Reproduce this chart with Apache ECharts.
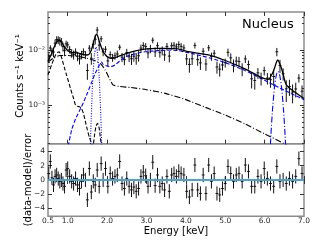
<!DOCTYPE html>
<html><head><meta charset="utf-8">
<script src="https://cdn.jsdelivr.net/npm/echarts@6/dist/echarts.min.js"></script>
<style>html,body{margin:0;padding:0;background:#fff}#c{width:320px;height:240px}</style>
</head><body><div id="c"></div>
<script>
// ---- axis ranges / ticks ----
const xMin = 0.5, xMax = 7.0;
const xTickVals = [1, 2, 3, 4, 5, 6, 7];
const xLabelVals = [0.5, 1, 2, 3, 4, 5, 6, 7];
const yMin = 2e-4, yMax = 0.049;
const yMajorVals = [1e-3, 1e-2];
const yMinorVals = [2e-4,3e-4,4e-4,5e-4,6e-4,7e-4,8e-4,9e-4,2e-3,3e-3,4e-3,5e-3,6e-3,7e-3,8e-3,9e-3,2e-2,3e-2,4e-2];
const rMin = -5.1, rMax = 5.1;
const rTickVals = [-4, -2, 0, 2, 4];

// ---- data points (top panel) ----
const dataE = [0.52,0.56,0.60,0.64,0.68,0.72,0.76,0.80,0.84,0.88,0.92,0.96,1.00,1.05,1.10,1.15,1.20,1.25,1.30,1.35,1.40,1.45,1.50,1.55,1.60,1.65,1.70,1.75,1.80,1.85,1.90,1.96,2.02,2.08,2.14,2.20,2.26,2.32,2.38,2.44,2.50,2.56,2.62,2.68,2.74,2.80,2.86,2.92,2.98,3.04,3.10,3.16,3.22,3.28,3.34,3.40,3.46,3.52,3.58,3.64,3.70,3.76,3.82,3.88,3.95,4.02,4.09,4.16,4.23,4.30,4.37,4.44,4.51,4.58,4.65,4.72,4.79,4.86,4.93,5.00,5.07,5.14,5.21,5.28,5.35,5.43,5.51,5.59,5.67,5.75,5.83,5.91,5.99,6.07,6.15,6.23,6.31,6.39,6.47,6.55,6.63,6.71,6.79,6.87,6.95];
const dataY = [0.00765,0.01089,0.00936,0.00922,0.01335,0.01544,0.01529,0.01463,0.01413,0.01152,0.00972,0.01296,0.01243,0.01024,0.00881,0.00825,0.00921,0.00776,0.00693,0.00822,0.00931,0.00822,0.00426,0.01082,0.00711,0.01273,0.01566,0.02305,0.01224,0.01597,0.00933,0.01034,0.00635,0.00826,0.00732,0.00786,0.00849,0.01126,0.00744,0.0067,0.00901,0.00755,0.00695,0.00774,0.00711,0.00787,0.01085,0.01214,0.01154,0.00887,0.01059,0.01509,0.00926,0.012,0.00908,0.00981,0.00817,0.01163,0.00777,0.01194,0.01221,0.01141,0.01261,0.01167,0.01093,0.00692,0.00548,0.00695,0.01215,0.0067,0.00586,0.00952,0.00559,0.01098,0.00767,0.00875,0.00493,0.0045,0.00536,0.00591,0.0091,0.00722,0.00534,0.00631,0.00621,0.00455,0.00691,0.00545,0.00301,0.00281,0.00386,0.00308,0.00423,0.0031,0.0029,0.00331,0.00931,0.00523,0.00372,0.00198,0.00218,0.00173,0.00197,0.0031,0.00179];
const dataErr = [0.0011,0.0013,0.0015,0.0018,0.0021,0.0023,0.0025,0.0026,0.0024,0.0021,0.0020,0.0018,0.0017,0.0016,0.00155,0.00153,0.00151,0.0015,0.00148,0.00145,0.00141,0.0014,0.00138,0.00145,0.0017,0.0022,0.0030,0.0032,0.0025,0.0020,0.0016,0.0014,0.0013,0.0012,0.0012,0.0012,0.0013,0.0013,0.0014,0.0014,0.0015,0.0015,0.0016,0.0016,0.0017,0.0017,0.0017,0.0017,0.0018,0.0018,0.0018,0.0018,0.0018,0.0018,0.0018,0.0018,0.0018,0.0018,0.0018,0.0018,0.0018,0.0018,0.0018,0.0017,0.0017,0.0016,0.0016,0.0016,0.0015,0.0015,0.0015,0.0014,0.0014,0.0014,0.0013,0.0013,0.0012,0.0012,0.0011,0.0011,0.0015,0.0015,0.0014,0.0013,0.0013,0.0012,0.0011,0.0010,0.0010,0.0009,0.00086,0.00081,0.00076,0.00074,0.00083,0.0011,0.0016,0.0014,0.00093,0.00084,0.00071,0.00065,0.00059,0.00053,0.00048];

// ---- residuals (bottom panel) ----
const resid = [0.9,2.6,0.3,-0.7,0.5,0.7,0.2,-0.2,0.0,-0.5,-0.9,1.4,1.6,0.5,-0.2,-0.5,0.2,-0.7,-1.2,-0.2,0.7,0.0,-2.8,1.6,-1.7,-0.2,-0.7,1.4,-0.9,2.3,0.0,1.6,-0.9,0.9,0.2,0.5,0.7,2.6,-0.5,-1.2,0.2,-0.9,-1.4,-1.0,-1.6,-1.2,0.5,1.1,0.6,-0.9,0.0,2.5,-0.8,0.7,-0.9,-0.5,-1.4,0.5,-1.6,0.7,0.9,0.5,1.2,0.9,0.7,-1.6,-2.4,-1.4,2.1,-1.4,-1.9,0.7,-1.9,2.1,-0.2,0.9,-1.9,-2.1,-1.2,-0.5,1.9,0.9,-0.2,0.7,0.9,-0.2,2.1,1.2,-0.9,-0.9,0.5,-0.2,1.6,0.2,-0.5,-0.9,1.9,-0.2,0.0,-0.5,0.2,-0.2,0.5,3.0,0.9];
const residErr = 1.0;
const zeroLevel = 0;

// ---- model curves ----
const totalE = [0.5,0.55,0.6,0.65,0.7,0.75,0.8,0.85,0.9,0.95,1.0,1.1,1.2,1.3,1.4,1.5,1.55,1.6,1.65,1.7,1.73,1.76,1.8,1.85,1.9,1.95,2.0,2.1,2.2,2.3,2.5,2.75,3.0,3.25,3.5,3.8,4.0,4.25,4.64,5.0,5.5,5.87,6.0,6.1,6.2,6.25,6.3,6.33,6.38,6.45,6.53,6.6,6.8,7.0];
const totalY = [0.00617,0.00741,0.00891,0.01096,0.01318,0.01479,0.01514,0.0138,0.01202,0.01072,0.00977,0.00912,0.00891,0.00871,0.00832,0.00813,0.00851,0.01,0.01318,0.01778,0.0195,0.0182,0.01445,0.01148,0.00933,0.00832,0.00759,0.00708,0.00724,0.00776,0.00871,0.00977,0.01047,0.01072,0.01072,0.01047,0.00955,0.00891,0.00794,0.00646,0.00457,0.00331,0.00302,0.00295,0.0038,0.00468,0.00603,0.00661,0.00575,0.00417,0.00251,0.00214,0.00166,0.00132];

const plE = [1.0,1.02,1.1,1.2,1.3,1.4,1.5,1.6,1.7,1.8,1.86,1.9,2.0,2.1,2.2,2.45,2.7,2.96,3.3,3.6,3.8,4.2,4.64,5.0,5.5,6.0,6.5,7.0];
const plY = [0.000141,0.00019,0.000355,0.000562,0.000794,0.00112,0.00166,0.00251,0.0038,0.00525,0.00603,0.0055,0.00513,0.00501,0.00537,0.00741,0.00851,0.00933,0.00977,0.01,0.00977,0.00851,0.00708,0.00589,0.00427,0.00282,0.00186,0.00126];

const thE = [0.5,0.55,0.6,0.65,0.7,0.75,0.78,0.82,0.87,0.92,0.97,1.02,1.08,1.15,1.2,1.25,1.3,1.35,1.4,1.45,1.5,1.55,1.6,1.64,1.68,1.72,1.76,1.8,1.83,1.86,1.9];
const thY = [0.00355,0.00447,0.00562,0.00692,0.00832,0.00912,0.00933,0.00832,0.00631,0.00468,0.00355,0.00269,0.00191,0.00132,0.001,0.000955,0.000933,0.000871,0.000708,0.000501,0.000355,0.000263,0.000209,0.000178,0.000282,0.000417,0.000468,0.00038,0.000251,0.000178,0.0001];

const scE = [0.5,0.65,0.8,1.0,1.3,1.6,1.75,1.85,1.95,2.05,2.15,2.3,2.6,3.0,3.5,4.0,4.5,5.0,5.5,6.0,6.5,6.7];
const scY = [0.00603,0.00724,0.00794,0.00794,0.00759,0.00676,0.00617,0.0055,0.00437,0.00316,0.00234,0.00219,0.00209,0.00191,0.00162,0.00126,0.000912,0.000661,0.000457,0.000302,0.0002,0.000166];

const siE = [1.57,1.59,1.62,1.65,1.68,1.71,1.72,1.74,1.77,1.80,1.83,1.86,1.88];
const siY = [0.00013,0.00039,0.00156,0.0043,0.0083,0.0113,0.0115,0.0106,0.0070,0.0032,0.00102,0.00023,0.00007];

const feE = [6.12,6.16,6.2,6.25,6.3,6.34,6.38,6.43,6.48,6.52,6.56];
const feY = [0.000077,0.000287,0.00082,0.0021,0.0036,0.0041,0.0036,0.0021,0.00082,0.000287,0.000077];

// ---- build ----
const pairs = (xs, ys) => xs.map((x, i) => [x, ys[i]]);
const topData = dataE.map((e, i) => [e, dataY[i], dataY[i] - dataErr[i], dataY[i] + dataErr[i]]);
const resData = dataE.map((e, i) => [e, resid[i], resid[i] - residErr, resid[i] + residErr]);

const FONT = 'DejaVu Sans';
const SUP = {'-':'\u207B','0':'\u2070','1':'\u00B9','2':'\u00B2','3':'\u00B3','4':'\u2074','5':'\u2075','6':'\u2076','7':'\u2077','8':'\u2078','9':'\u2079'};
const supStr = s => String(s).split('').map(c => SUP[c] || c).join('');
const lg = v => Math.log10(v);

function xa(grid, pos, labels) {
  return {
    type: 'value', gridIndex: grid, position: pos, min: xMin, max: xMax,
    axisLine: {show: false}, splitLine: {show: false},
    axisTick: {show: true, inside: true, length: 4, customValues: xTickVals, lineStyle: {color: '#333', width: 1}},
    axisLabel: {show: labels, customValues: xLabelVals, formatter: v => Number(v).toFixed(1),
      fontSize: 7.5, color: '#222', margin: 1, fontFamily: FONT}
  };
}
function ya(grid, pos, mn, mx, ticks, len, labelFmt) {
  return {
    type: 'value', gridIndex: grid, position: pos, min: mn, max: mx,
    axisLine: {show: false}, splitLine: {show: false},
    axisTick: {show: true, inside: true, length: len, customValues: ticks, lineStyle: {color: '#333', width: 1}},
    axisLabel: {show: !!labelFmt, customValues: ticks, formatter: labelFmt || (v => ''),
      fontSize: 7.5, color: '#222', margin: 3, fontFamily: FONT}
  };
}

function errRender(params, api) {
  const x = api.value(0), y = api.value(1), lo = api.value(2), hi = api.value(3);
  const p = api.coord([x, y]), pl = api.coord([x, lo]), ph = api.coord([x, hi]);
  return {type: 'group', children: [
    {type: 'line', shape: {x1: pl[0], y1: pl[1], x2: ph[0], y2: ph[1]}, style: {stroke: '#111', lineWidth: 1}},
    {type: 'line', shape: {x1: p[0] - 1.4, y1: p[1], x2: p[0] + 1.4, y2: p[1]}, style: {stroke: '#111', lineWidth: 1}}
  ]};
}

function line(name, xs, ys, color, type, width, z) {
  return {name, type: 'line', xAxisIndex: 0, yAxisIndex: 0, data: pairs(xs, ys),
    symbol: 'none', showSymbol: false, smooth: 0.2, clip: true, z: z || 3,
    lineStyle: {color, type, width}, silent: true};
}

const majorLg = yMajorVals.map(lg);
const minorLg = yMinorVals.map(lg);
const topFmt = v => '10' + supStr(Math.round(v));

const chart = echarts.init(document.getElementById('c'), null, {renderer: 'canvas'});
chart.setOption({
  animation: false,
  backgroundColor: '#fff',
  grid: [
    {left: 48, top: 12, width: 256, height: 131.7, show: true, borderColor: '#8c8c8c', borderWidth: 1.5, backgroundColor: 'transparent'},
    {left: 48, top: 143.7, width: 256, height: 72.5, show: true, borderColor: '#8c8c8c', borderWidth: 1.5, backgroundColor: 'transparent'}
  ],
  xAxis: [xa(0, 'bottom', false), xa(0, 'top', false), xa(1, 'bottom', true), xa(1, 'top', false)],
  yAxis: [
    {type: 'log', logBase: 10, gridIndex: 0, min: yMin, max: yMax, show: false, splitLine: {show: false}},
    ya(0, 'left', lg(yMin), lg(yMax), majorLg, 4, topFmt),
    ya(0, 'right', lg(yMin), lg(yMax), majorLg, 4, null),
    ya(0, 'left', lg(yMin), lg(yMax), minorLg, 2, null),
    ya(0, 'right', lg(yMin), lg(yMax), minorLg, 2, null),
    ya(1, 'left', rMin, rMax, rTickVals, 4, v => (v < 0 ? '\u2212' + Math.abs(v) : String(v))),
    ya(1, 'right', rMin, rMax, rTickVals, 4, null)
  ],
  series: [
    {type: 'custom', xAxisIndex: 0, yAxisIndex: 0, data: topData, renderItem: errRender, encode: {x: 0, y: 1}, z: 2, silent: true, clip: true},
    line('thermal', thE, thY, '#000', [4, 2], 1.1, 3),
    line('scatter', scE, scY, '#000', [6, 2, 1, 2], 1.1, 3),
    line('powerlaw', plE, plY, '#0000ff', [4, 2], 1.1, 3),
    line('si', siE, siY, '#0000ff', [1, 1.5], 1.1, 3),
    line('fe', feE, feY, '#0000ff', [6, 2, 1, 2], 1.1, 3),
    line('total', totalE, totalY, '#000', 'solid', 1.3, 4),
    {type: 'custom', xAxisIndex: 2, yAxisIndex: 5, data: resData, renderItem: errRender, encode: {x: 0, y: 1}, z: 2, silent: true},
    {type: 'line', xAxisIndex: 2, yAxisIndex: 5, data: [[xMin, zeroLevel], [xMax, zeroLevel]], symbol: 'none',
      lineStyle: {color: '#4f9fd3', width: 2}, z: 5, silent: true}
  ],
  graphic: [
    {type: 'text', left: 242, top: 18, style: {text: 'Nucleus', fontSize: 13, fontFamily: FONT, fill: '#000'}},
    {type: 'text', x: 20, y: 76, rotation: Math.PI / 2,
      style: {text: 'Counts s\u207B\u00B9 keV\u207B\u00B9', fontSize: 10, fontFamily: FONT, fill: '#000', align: 'center', verticalAlign: 'middle'}},
    {type: 'text', x: 28, y: 180, rotation: Math.PI / 2,
      style: {text: '(data-model)/error', fontSize: 10, fontFamily: FONT, fill: '#000', align: 'center', verticalAlign: 'middle'}},
    {type: 'text', x: 176, y: 231.5,
      style: {text: 'Energy [keV]', fontSize: 10, fontFamily: FONT, fill: '#000', align: 'center', verticalAlign: 'middle'}}
  ]
});
</script></body></html>
